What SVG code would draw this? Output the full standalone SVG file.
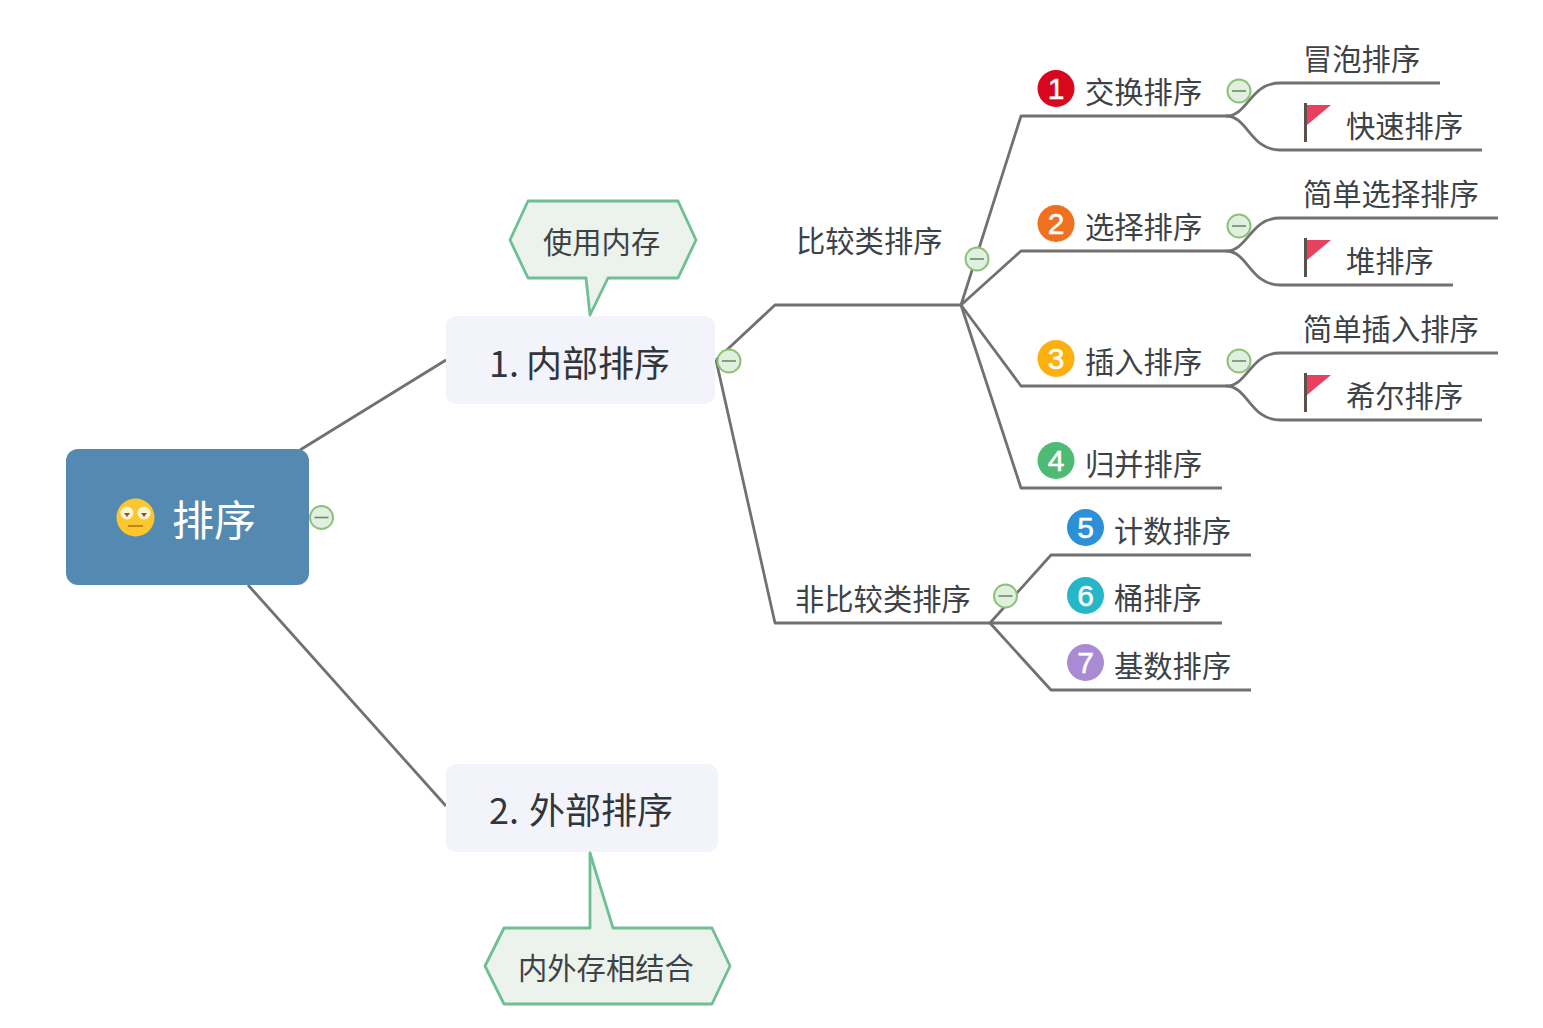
<svg xmlns="http://www.w3.org/2000/svg" width="1543" height="1028" viewBox="0 0 1543 1028">
<defs>
<style>
text{font-family:"Noto Sans CJK SC","Noto Sans",sans-serif;fill:#3d4247}
.t{font-size:29.300px}
.m{font-size:36px;fill:#32363b}
.n{font-size:30px;fill:#fff;stroke:#fff;stroke-width:.5;font-family:"Liberation Sans",sans-serif;text-anchor:middle}
.l{fill:none;stroke:#717171;stroke-width:2.800;stroke-linejoin:round}
.c{fill:#ebf3ec;stroke:#6fbf93;stroke-width:2.800;stroke-linejoin:round}
.box{fill:#f3f4fb}
</style>
<g id="col"><circle r="11.500" fill="#e1efe0" stroke="#8cc276" stroke-width="2"/><line x1="-7" x2="7" stroke="#66905a" stroke-width="1.600"/></g>
<g id="flag"><rect x="1" y="-1" width="3" height="39" fill="#5c5048"/><path d="M4 1H28L4 21Z" fill="#e8405f"/></g>
</defs>
<rect width="1543" height="1028" fill="#fff"/>
<g id="connectors">
<path class="l" d="M300 450L446 360"/>
<path class="l" d="M248 585L446 806"/>
<path class="l" d="M716 360L775 305H961"/>
<path class="l" d="M716 360L775 623H990"/>
<path class="l" d="M961 305L1021 116H1226"/>
<path class="l" d="M961 305L1021 251H1226"/>
<path class="l" d="M961 305L1021 386H1226"/>
<path class="l" d="M961 305L1021 488H1222"/>
<path class="l" d="M990 623L1051 555H1251"/>
<path class="l" d="M990 623L1051 623H1222"/>
<path class="l" d="M990 623L1051 690H1251"/>
<path class="l" d="M1226 116C1248 116 1250 83 1280 83H1440"/>
<path class="l" d="M1226 116C1248 116 1250 150 1280 150H1482"/>
<path class="l" d="M1226 251C1248 251 1250 218 1280 218H1498"/>
<path class="l" d="M1226 251C1248 251 1250 285 1280 285H1453"/>
<path class="l" d="M1226 386C1248 386 1250 353 1280 353H1498"/>
<path class="l" d="M1226 386C1248 386 1250 420 1280 420H1482"/>
</g>
<g id="root">
<rect x="66" y="449" width="243" height="136" rx="12" fill="#548ab2"/>
<circle cx="135.500" cy="517.500" r="19" fill="#fcc62f"/>
<circle cx="127" cy="513" r="6.500" fill="#fdf3d0"/><circle cx="144" cy="513" r="6.500" fill="#fdf3d0"/>
<path d="M124 513h6l-3 4zM141 513h6l-3 4z" fill="#8a5a20"/>
<line x1="128" x2="143" y1="526" y2="526" stroke="#a8701d" stroke-width="1.500"/>
<text x="172" y="535.500" font-size="42" style="fill:#fff">排序</text>
<use href="#col" x="321.500" y="517.500"/>
</g>
<g id="node-internal">
<rect class="box" x="446" y="316" width="269" height="88" rx="10"/>
<text class="m" x="489" y="376.500">1. <tspan x="526">内部排序</tspan></text>
<use href="#col" x="729" y="361"/>
</g>
<g id="callout-internal">
<path class="c" d="M528 201H678L696 240L678 278H608L590 315L586 278H528L510 240Z"/>
<text class="t" x="543" y="253">使用内存</text>
</g>
<g id="node-external">
<rect class="box" x="446" y="764" width="272" height="88" rx="10"/>
<text class="m" x="489" y="823.500">2. <tspan x="529">外部排序</tspan></text>
</g>
<g id="callout-external">
<path class="c" d="M504 928H590V853L613 928H712L730 966L712 1004H504L485 966Z"/>
<text class="t" x="518" y="979">内外存相结合</text>
</g>
<g id="node-compare">
<text class="t" x="796" y="252">比较类排序</text>
<use href="#col" x="977" y="259"/>
</g>
<g id="node-noncompare">
<text class="t" x="795" y="610">非比较类排序</text>
<use href="#col" x="1005.500" y="596"/>
</g>
<g id="node-swap">
<circle cx="1056" cy="88.500" r="18.500" fill="#d9071d"/><text class="n" x="1056" y="99">1</text>
<text class="t" x="1085" y="103">交换排序</text>
<use href="#col" x="1239" y="91"/>
</g>
<g id="node-select">
<circle cx="1056" cy="223.500" r="18.500" fill="#f1701f"/><text class="n" x="1056" y="234">2</text>
<text class="t" x="1085" y="238">选择排序</text>
<use href="#col" x="1239" y="226"/>
</g>
<g id="node-insert">
<circle cx="1056" cy="358.500" r="18.500" fill="#fbb010"/><text class="n" x="1056" y="369">3</text>
<text class="t" x="1085" y="373">插入排序</text>
<use href="#col" x="1239" y="361"/>
</g>
<g id="node-merge">
<circle cx="1056" cy="460.500" r="18.500" fill="#4fba74"/><text class="n" x="1056" y="471">4</text>
<text class="t" x="1085" y="475">归并排序</text>
</g>
<g id="node-count">
<circle cx="1085.500" cy="527.500" r="18.500" fill="#2d8fd8"/><text class="n" x="1085.500" y="538">5</text>
<text class="t" x="1114" y="542">计数排序</text>
</g>
<g id="node-bucket">
<circle cx="1085.500" cy="595.500" r="18.500" fill="#27b5c8"/><text class="n" x="1085.500" y="606">6</text>
<text class="t" x="1114" y="609">桶排序</text>
</g>
<g id="node-radix">
<circle cx="1085.500" cy="662.500" r="18.500" fill="#a98bd3"/><text class="n" x="1085.500" y="673">7</text>
<text class="t" x="1114" y="677">基数排序</text>
</g>
<g id="node-bubble"><text class="t" x="1303" y="70">冒泡排序</text></g>
<g id="node-quick"><use href="#flag" x="1303" y="104"/><text class="t" x="1346" y="137">快速排序</text></g>
<g id="node-simple-select"><text class="t" x="1303" y="205">简单选择排序</text></g>
<g id="node-heap"><use href="#flag" x="1303" y="239"/><text class="t" x="1346" y="272">堆排序</text></g>
<g id="node-simple-insert"><text class="t" x="1303" y="340">简单插入排序</text></g>
<g id="node-shell"><use href="#flag" x="1303" y="374"/><text class="t" x="1346" y="407">希尔排序</text></g>
</svg>
